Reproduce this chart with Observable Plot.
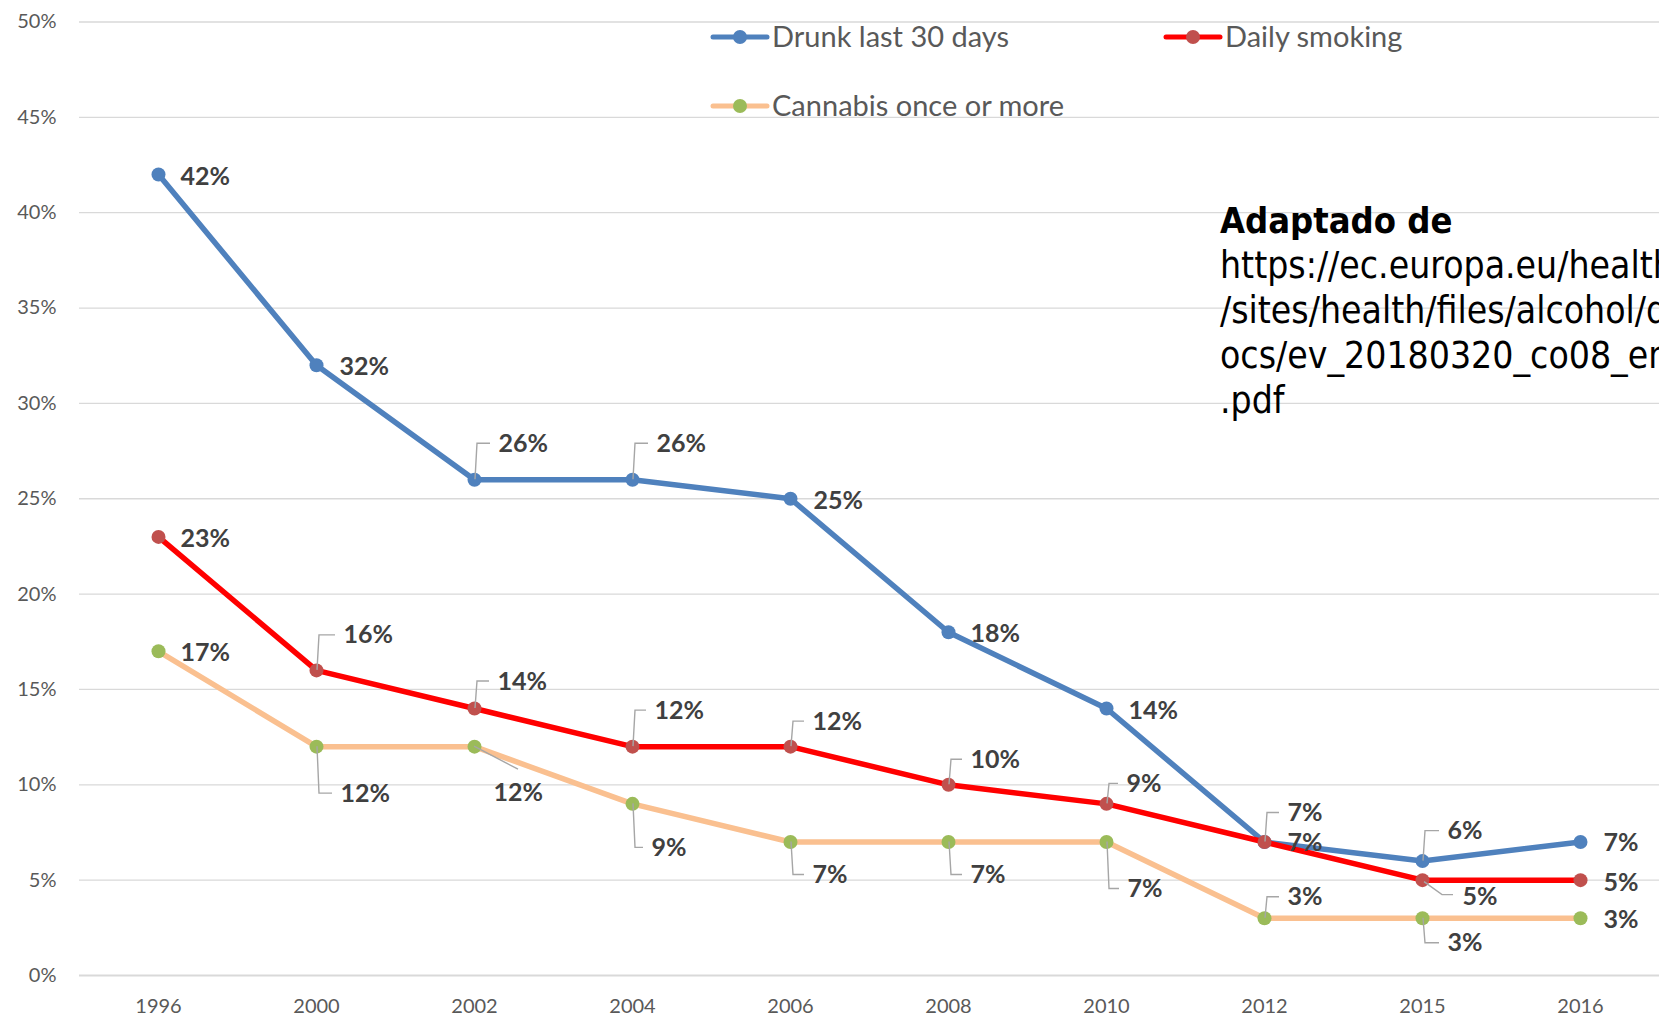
<!DOCTYPE html>
<html><head><meta charset="utf-8">
<script src="https://cdn.jsdelivr.net/npm/d3@7"></script>
<script src="https://cdn.jsdelivr.net/npm/@observablehq/plot@0.6"></script>
<style>
html,body{margin:0;padding:0;background:#fff;overflow:hidden;}
#wrap{position:relative;width:1659px;height:1017px;overflow:hidden;background:#fff;}
#overlay{position:absolute;left:0;top:0;pointer-events:none;}
</style></head><body><div id="wrap"></div>
<script>
// ---- data ----
const years = ["1996","2000","2002","2004","2006","2008","2010","2012","2015","2016"];
const seriesNames = ["Drunk last 30 days","Daily smoking","Cannabis once or more"];
const drunk    = [0.42,0.32,0.26,0.26,0.25,0.18,0.14,0.07,0.06,0.07];
const smoking  = [0.23,0.16,0.14,0.12,0.12,0.10,0.09,0.07,0.05,0.05];
const cannabis = [0.17,0.12,0.12,0.09,0.07,0.07,0.07,0.03,0.03,0.03];
const yTicks = [0,0.05,0.10,0.15,0.20,0.25,0.30,0.35,0.40,0.45,0.50];
const sourceTitle = "Adaptado de";
const sourceLines = ["https://ec.europa.eu/health","/sites/health/files/alcohol/d","ocs/ev_20180320_co08_en",".pdf"];

// ---- label layout (pixel offsets of each data label from its point, leader kind) ----
const drunkLabelLayout    = [[22,2,""],[23,2,""],[24,-36,"v"],[24,-36,"v"],[23,2,""],[22,2,""],[22,2,""],[23,-29,"v"],[25,-30,"v"],[23,1,""]];
const smokingLabelLayout  = [[22,2,""],[27,-35,"v"],[23,-27,"v"],[22,-36,"v"],[22,-25,"v"],[22,-25,"v"],[20,-20,"v"],[23,1,""],[40,17,"dh"],[23,3,""]];
const cannabisLabelLayout = [[22,2,""],[24,47,"v"],[19,46,"d"],[19,44,"v"],[22,33,"v"],[22,33,"v"],[21,47,"v"],[23,-21,"v"],[25,25,"v"],[23,2,""]];

const fmt = d3.format(".0%");

const series = [
  {name: seriesNames[0], values: drunk,    line: "#4F81BD", marker: "#4F81BD", layout: drunkLabelLayout},
  {name: seriesNames[1], values: smoking,  line: "#FF0000", marker: "#C0504D", layout: smokingLabelLayout},
  {name: seriesNames[2], values: cannabis, line: "#FAC090", marker: "#9BBB59", layout: cannabisLabelLayout}
];
const rows = series.map(s => years.map((yr, i) => ({series: s.name, year: yr, value: s.values[i], off: s.layout[i]})));
const allRows = rows.flat();

const marks = [
  Plot.ruleY(yTicks.filter(t => t > 0), {stroke: "#d9d9d9", strokeWidth: 1.3}),
  Plot.ruleY([0], {stroke: "#d9d9d9", strokeWidth: 2})
];
series.forEach((s, k) => {
  marks.push(Plot.line(rows[k], {x: "year", y: "value", stroke: s.line, strokeWidth: 5.5, strokeLinejoin: "round", strokeLinecap: "round"}));
  marks.push(Plot.dot(rows[k], {x: "year", y: "value", r: 7, fill: s.marker, stroke: "none"}));
});
// leader lines
marks.push((index, scales) => {
  const g = d3.create("svg:g").attr("fill", "none").attr("stroke", "#a6a6a6").attr("stroke-width", 1.4);
  allRows.forEach(d => {
    const [dx, dy, kind] = d.off;
    if (!kind) return;
    const px = scales.x(d.year), py = scales.y(d.value);
    const lx = px + dx, ly = py + dy;
    let p;
    if (kind === "v") p = `M${px + 1},${py}L${px + 3},${ly}L${lx - 8},${ly}`;
    else if (kind === "d") p = `M${px},${py}L${px + 44},${py + 23}`;
    else p = `M${px + 2},${py + 2}L${px + 20},${py + 15}L${px + 31},${py + 15}`;
    g.append("path").attr("d", p);
  });
  return g.node();
});
// data labels
allRows.forEach(d => {
  marks.push(Plot.text([d], {
    x: "year", y: "value", text: r => fmt(r.value),
    dx: d.off[0], dy: d.off[1], textAnchor: "start",
    fontSize: 25, fontWeight: "bold", fill: "#404040", fontFamily: "Lato, sans-serif"
  }));
});

const chart = Plot.plot({
  width: 1659, height: 1017,
  marginLeft: 79, marginRight: 0, marginTop: 21.5, marginBottom: 42,
  style: {fontFamily: "Lato, sans-serif", fontSize: "20px", color: "#595959", background: "white"},
  x: {type: "point", domain: years, padding: 0.5, tickSize: 0, tickPadding: 23, label: null},
  y: {domain: [0, 0.5], ticks: yTicks, tickFormat: fmt, tickSize: 0, tickPadding: 23, label: null},
  marks
});
const wrap = document.getElementById("wrap");
wrap.appendChild(chart);

// ---- legend + source annotation overlay ----
const ov = d3.select(wrap).append("svg").attr("id", "overlay").attr("width", 1659).attr("height", 1017);
const legendItems = [
  {s: series[0], x: 713, y: 37},
  {s: series[1], x: 1166, y: 37},
  {s: series[2], x: 713, y: 106}
];
legendItems.forEach(it => {
  const g = ov.append("g");
  g.append("line").attr("x1", it.x).attr("x2", it.x + 54).attr("y1", it.y).attr("y2", it.y)
    .attr("stroke", it.s.line).attr("stroke-width", 5).attr("stroke-linecap", "round");
  g.append("circle").attr("cx", it.x + 27).attr("cy", it.y).attr("r", 7).attr("fill", it.s.marker);
  g.append("text").attr("x", it.x + 59).attr("y", it.y).attr("dy", "0.35em")
    .attr("font-family", "Lato, sans-serif").attr("font-size", 29).attr("fill", "#595959")
    .text(it.s.name);
});
const srcFont = "'DejaVu Sans Condensed', 'DejaVu Sans', sans-serif";
ov.append("text").attr("x", 1220).attr("y", 233).attr("font-family", srcFont)
  .attr("font-stretch", "condensed").attr("font-weight", "bold").attr("font-size", 36).attr("fill", "#000")
  .text(sourceTitle);
sourceLines.forEach((t, i) => {
  ov.append("text").attr("x", 1220).attr("y", 278 + i * 45).attr("font-family", srcFont)
    .attr("font-stretch", "condensed").attr("font-size", 37).attr("fill", "#000").text(t);
});
</script></body></html>
